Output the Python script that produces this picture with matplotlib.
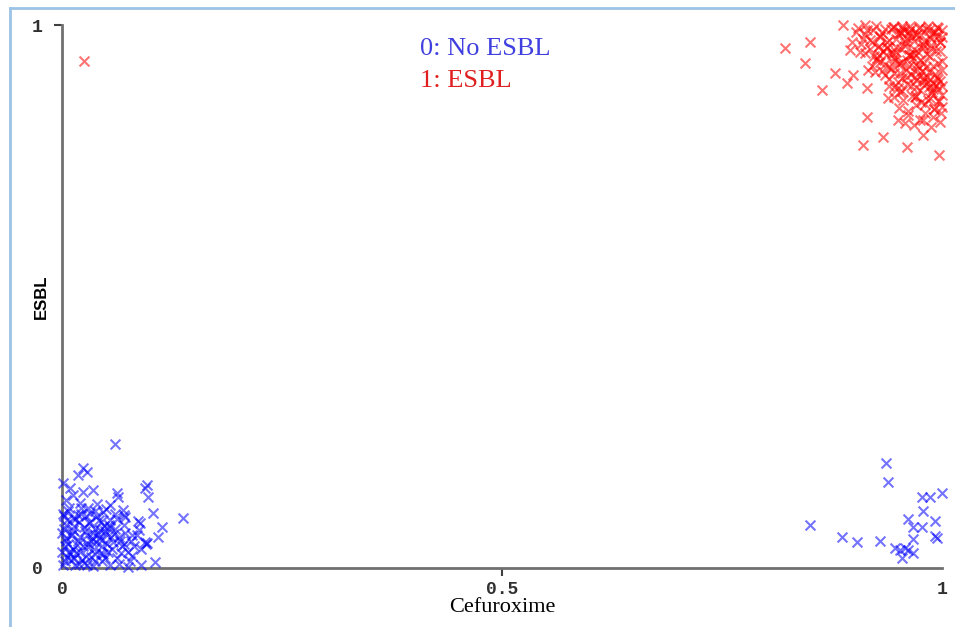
import matplotlib
matplotlib.use("Agg")
import matplotlib.pyplot as plt
from matplotlib.lines import Line2D

# class 0: No ESBL (blue), lower-left cluster then lower-right cluster
no_esbl_x = [
    0.060, 0.024, 0.018, 0.028, 0.001, 0.009, 0.013, 0.024, 0.035, 0.062, 0.064,
    0.097, 0.094, 0.098, 0.055, 0.047, 0.069, 0.072, 0.103, 0.138, 0.086, 0.089,
    0.114, 0.109, 0.094, 0.097, 0.106,
    0.002, 0.005, 0.008, 0.010, 0.003, 0.006, 0.001, 0.012, 0.015, 0.018, 0.020,
    0.022, 0.025, 0.028, 0.030, 0.032, 0.035, 0.038, 0.040, 0.042, 0.045, 0.048,
    0.050, 0.052, 0.055, 0.058, 0.060, 0.062, 0.065, 0.068, 0.070, 0.072, 0.075,
    0.078, 0.080, 0.085, 0.090, 0.095, 0.010, 0.015, 0.025, 0.035, 0.045, 0.055,
    0.065, 0.075, 0.090, 0.005, 0.020, 0.030, 0.040, 0.050, 0.060, 0.070, 0.013,
    0.027, 0.033, 0.043, 0.053, 0.063, 0.000, 0.000, 0.004, 0.007, 0.016, 0.019,
    0.024, 0.036, 0.047, 0.057, 0.067, 0.077, 0.082, 0.087,
    0.002, 0.004, 0.006, 0.008, 0.011, 0.014, 0.017, 0.021, 0.026, 0.029, 0.031,
    0.034, 0.037, 0.039, 0.041, 0.044, 0.046, 0.049, 0.051, 0.054, 0.056, 0.059,
    0.003, 0.009, 0.014, 0.019, 0.023, 0.028, 0.033, 0.038, 0.044, 0.049, 0.001,
    0.007, 0.012, 0.018, 0.022, 0.027, 0.032, 0.037, 0.042, 0.066, 0.071, 0.079,
    0.936, 0.939, 0.850, 0.886, 0.903, 0.930, 0.977, 0.986, 1.000, 0.978, 0.961,
    0.967, 0.977, 0.992, 0.992, 0.994, 0.967, 0.947, 0.952, 0.958, 0.961, 0.955,
    0.967,
]
no_esbl_y = [
    0.228, 0.184, 0.171, 0.177, 0.157, 0.147, 0.134, 0.140, 0.144, 0.138, 0.131,
    0.153, 0.147, 0.131, 0.116, 0.103, 0.107, 0.094, 0.101, 0.092, 0.087, 0.083,
    0.076, 0.057, 0.048, 0.046, 0.011,
    0.095, 0.080, 0.110, 0.060, 0.040, 0.020, 0.005, 0.070, 0.090, 0.050, 0.030,
    0.100, 0.075, 0.060, 0.045, 0.085, 0.065, 0.025, 0.095, 0.055, 0.040, 0.078,
    0.062, 0.030, 0.088, 0.048, 0.072, 0.018, 0.058, 0.040, 0.080, 0.065, 0.030,
    0.050, 0.022, 0.060, 0.035, 0.045, 0.015, 0.005, 0.010, 0.003, 0.012, 0.005,
    0.008, 0.002, 0.006, 0.125, 0.120, 0.110, 0.118, 0.108, 0.100, 0.098, 0.035,
    0.022, 0.050, 0.070, 0.080, 0.090, 0.030, 0.065, 0.055, 0.045, 0.028, 0.085,
    0.040, 0.035, 0.025, 0.035, 0.028, 0.012, 0.040, 0.070,
    0.072, 0.050, 0.088, 0.030, 0.062, 0.078, 0.042, 0.058, 0.068, 0.038, 0.082,
    0.055, 0.072, 0.048, 0.062, 0.085, 0.052, 0.068, 0.045, 0.075, 0.058, 0.062,
    0.012, 0.025, 0.018, 0.008, 0.015, 0.005, 0.020, 0.012, 0.028, 0.018, 0.100,
    0.105, 0.092, 0.098, 0.110, 0.095, 0.102, 0.105, 0.088, 0.050, 0.045, 0.060,
    0.193, 0.158, 0.079, 0.057, 0.048, 0.050, 0.131, 0.131, 0.138, 0.105, 0.090,
    0.076, 0.076, 0.087, 0.059, 0.055, 0.053, 0.037, 0.033, 0.037, 0.033, 0.018,
    0.028,
]

# class 1: ESBL (red), one stray point then the upper-right cluster
esbl_x = [
    0.025,
    0.822, 0.850, 0.844, 0.864, 0.878, 0.892, 0.899, 0.888, 0.912, 0.915, 0.915,
    0.910, 0.933, 0.960, 0.978, 0.997, 0.950, 0.961, 0.975, 0.990, 1.000, 0.939,
    0.952, 0.969, 0.984, 1.000, 0.898, 0.907, 0.895, 0.916, 0.924, 0.930,
    0.905, 0.915, 0.925, 0.935, 0.945, 0.955, 0.965, 0.975, 0.985, 0.995,
    0.910, 0.920, 0.930, 0.940, 0.950, 0.960, 0.970, 0.980, 0.990, 1.000,
    0.918, 0.928, 0.938, 0.948, 0.958, 0.968, 0.978, 0.988, 0.998,
    0.925, 0.935, 0.945, 0.955, 0.965, 0.975, 0.985, 0.995,
    0.932, 0.942, 0.952, 0.962, 0.972, 0.982, 0.992, 1.000,
    0.940, 0.950, 0.960, 0.970, 0.980, 0.990, 0.998,
    0.945, 0.955, 0.965, 0.975, 0.985, 0.995,
    0.948, 0.958, 0.968, 0.978, 0.988, 0.998,
    0.953, 0.963, 0.973, 0.983, 0.993, 0.957, 0.967, 0.977, 0.987, 0.997,
    0.943, 0.971, 0.981, 0.991, 0.962, 0.952, 0.936, 0.927, 0.994, 0.984,
    0.902, 0.912, 0.922, 0.932, 0.942, 0.952, 0.962, 0.972, 0.982, 0.992, 1.000,
    0.908, 0.918, 0.928, 0.938, 0.948, 0.958, 0.968, 0.978, 0.988, 0.998,
    0.913, 0.923, 0.933, 0.943, 0.953, 0.963, 0.973, 0.983, 0.993,
    0.920, 0.930, 0.940, 0.950, 0.960, 0.970, 0.980, 0.990, 1.000,
    0.935, 0.945, 0.955, 0.965, 0.975, 0.985, 0.995,
    0.940, 0.950, 0.960, 0.970, 0.980, 0.990, 1.000,
    0.946, 0.956, 0.966, 0.976, 0.986, 0.996,
    0.951, 0.961, 0.971, 0.981, 0.991, 0.958, 0.968, 0.978, 0.988, 0.998,
    0.944, 0.954, 0.964, 0.974, 0.984, 0.994, 0.966, 0.976, 0.986, 0.996,
    0.926, 0.937, 0.947, 0.959, 0.969, 0.979, 0.989, 0.999,
]
esbl_y = [
    0.934,
    0.958, 0.969, 0.930, 0.880, 0.912, 0.893, 0.908, 1.000, 1.000, 0.884, 0.831,
    0.779, 0.794, 0.775, 0.797, 0.761, 0.825, 0.834, 0.825, 0.831, 0.849, 0.866,
    0.877, 0.867, 0.862, 0.871, 0.969, 0.950, 0.954, 0.917, 0.913, 0.978,
    0.995, 0.990, 0.998, 0.992, 0.996, 0.999, 0.993, 0.997, 0.991, 0.995,
    0.975, 0.968, 0.980, 0.972, 0.984, 0.976, 0.982, 0.970, 0.985, 0.978,
    0.955, 0.945, 0.960, 0.950, 0.962, 0.948, 0.958, 0.963, 0.952,
    0.935, 0.928, 0.940, 0.932, 0.944, 0.936, 0.942, 0.930,
    0.915, 0.920, 0.912, 0.925, 0.918, 0.922, 0.910, 0.918,
    0.900, 0.895, 0.905, 0.898, 0.902, 0.893, 0.897,
    0.885, 0.878, 0.888, 0.880, 0.886, 0.882,
    0.960, 0.970, 0.955, 0.965, 0.958, 0.968,
    0.985, 0.945, 0.925, 0.905, 0.890, 0.990, 0.940, 0.915, 0.875, 0.860,
    0.950, 0.870, 0.855, 0.845, 0.985, 0.930, 0.945, 0.960, 0.905, 0.895,
    0.988, 0.983, 0.990, 0.986, 0.992, 0.987, 0.989, 0.984, 0.993, 0.988, 0.990,
    0.965, 0.972, 0.962, 0.968, 0.975, 0.966, 0.971, 0.964, 0.974, 0.969,
    0.948, 0.942, 0.952, 0.946, 0.955, 0.944, 0.950, 0.947, 0.953,
    0.925, 0.932, 0.922, 0.928, 0.935, 0.926, 0.930, 0.924, 0.934,
    0.908, 0.912, 0.903, 0.910, 0.906, 0.914, 0.901,
    0.888, 0.884, 0.892, 0.886, 0.890, 0.882, 0.887,
    0.868, 0.862, 0.870, 0.858, 0.866, 0.860,
    0.848, 0.842, 0.852, 0.838, 0.846, 0.820, 0.815, 0.825, 0.812, 0.822,
    0.997, 0.994, 0.998, 0.995, 0.999, 0.996, 0.978, 0.981, 0.977, 0.979,
    0.940, 0.958, 0.935, 0.918, 0.905, 0.896, 0.876, 0.838,
]

x_ticks = [0, 0.5, 1]
x_tick_labels = ["0", "0.5", "1"]
y_ticks = [0, 1]
y_tick_labels = ["0", "1"]

fig = plt.figure(figsize=(9.55, 6.27), dpi=100)
ax = fig.add_axes([62 / 955, 1 - 568 / 627, 880 / 955, 543 / 627])

ax.scatter(no_esbl_x, no_esbl_y, marker="x", s=50, linewidths=1.5,
           color="#0000ff", alpha=0.55, clip_on=False, zorder=3)
ax.scatter(esbl_x, esbl_y, marker="x", s=50, linewidths=1.5,
           color="#ff0000", alpha=0.55, clip_on=False, zorder=3)

ax.set_xlim(0, 1)
ax.set_ylim(0, 1)
for side in ["top", "right"]:
    ax.spines[side].set_visible(False)
for side in ["left", "bottom"]:
    ax.spines[side].set_color("#707070")
    ax.spines[side].set_linewidth(2)

ax.set_xticks(x_ticks)
ax.set_xticklabels(x_tick_labels)
ax.set_yticks(y_ticks)
ax.set_yticklabels(y_tick_labels)
ax.tick_params(axis="both", length=6, width=1.5, color="#404040",
               labelsize=13, labelcolor="#303030")
ax.tick_params(axis="y", pad=8)
for lab in ax.get_xticklabels() + ax.get_yticklabels():
    lab.set_family("Liberation Mono")
    lab.set_fontweight("bold")
ax.xaxis.get_major_ticks()[0].tick1line.set_visible(False)
ax.xaxis.get_major_ticks()[2].tick1line.set_visible(False)
ax.yaxis.get_major_ticks()[0].tick1line.set_visible(False)

ax.set_xlabel("Cefuroxime", family="Liberation Serif", fontsize=16, labelpad=0)
ax.set_ylabel("ESBL", family="Liberation Sans", fontweight="bold", fontsize=12)
ax.yaxis.set_label_coords(-0.015, 0.5)

ax.text(0.407, 0.955, "0: No ESBL", transform=ax.transAxes, color="#4040e0",
        family="Liberation Serif", fontsize=19, va="center")
ax.text(0.407, 0.897, "1: ESBL", transform=ax.transAxes, color="#e02020",
        family="Liberation Serif", fontsize=19, va="center")

# light blue frame (left and top edges visible)
fig.add_artist(Line2D([10 / 955, 10 / 955], [0, 1 - 8 / 627], color="#9dc3e6",
                      lw=2, transform=fig.transFigure))
fig.add_artist(Line2D([10 / 955, 1], [1 - 8 / 627, 1 - 8 / 627], color="#9dc3e6",
                      lw=2, transform=fig.transFigure))

fig.savefig("out.png", dpi=100)
